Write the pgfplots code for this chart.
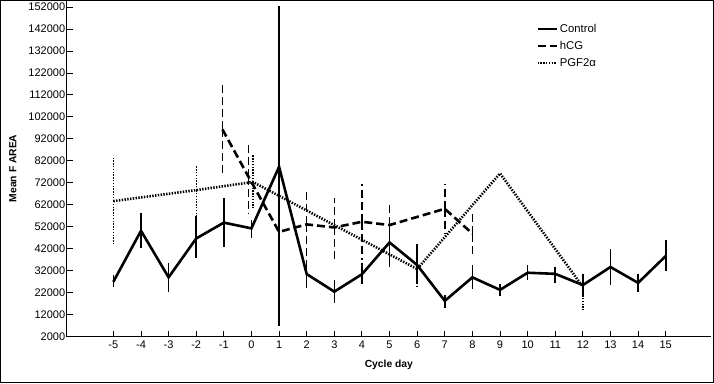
\documentclass[border=0pt]{standalone}
\usepackage{fontspec}
\setmainfont{Liberation Sans}
\usepackage{pgfplots}
\pgfplotsset{compat=1.18}
\usepackage{pgfplotstable}

\pgfplotstableread{
x y ep em
-5 27000 3000 2500
-4 50200 7900 7700
-3 29000 6400 6800
-2 46700 10200 9100
-1 53900 11000 11000
0 51300 4000 4600
1 79300 73100 72300
2 30500 6400 6500
3 22500 5300 5000
4 30400 5000 4600
5 44900 10900 11400
6 34600 9800 8800
7 18300 2700 3100
8 29000 5600 5500
9 23300 2500 2700
10 31100 3500 3300
11 30600 2900 4300
12 25500 4900 5300
13 33700 8200 8100
14 26500 3900 4000
15 38700 7300 7000
}\control

\pgfplotstableread{
x y ep em
-1.05 96300 20600 19600
-0.1 74600 15000 16500
1 49700 6100 6500
2 53100 15600 15800
3 51700 13200 14400
4 54300 17100 17400
5 52800 10600 10600
7 60200 11500 11200
8 48900 10100 10500
}\hcg

\pgfplotstableread{
x y ep em
-5 63700 19400 20000
-2 68700 11300 12200
0.05 72400 12500 12000
6 32800 5600 8800
9 76300 0 0
12 24700 6100 10600
}\pgf

\begin{document}
\begin{tikzpicture}[x=1pt,y=1pt]
\useasboundingbox (0,0) rectangle (714,383);
\draw[line width=1.3pt] (0.65,0.65) rectangle (713.35,382.35);
\begin{axis}[
  at={(66.7pt,46.3pt)}, anchor=south west,
  scale only axis, width=644.3pt, height=336.7pt,
  xmin=-6.69, xmax=16.64, ymin=2000, ymax=155200,
  axis lines*=left,
  axis line style={line width=1pt},
  tick align=inside, major tick length=6pt,
  tick style={line width=0.9pt, black},
  xtick={-5,...,15},
  ytick={2000,12000,...,152000},
  scaled y ticks=false,
  /pgf/number format/.cd, fixed, 1000 sep={}, assume math mode=true,
  /pgfplots/.cd,
  tick label style={font=\fontsize{11}{12}\selectfont},
  yticklabel style={xshift=2pt},
  xticklabel style={yshift=-1pt},
  xlabel={\bfseries Cycle day},
  ylabel={\bfseries Mean F AREA},
  label style={font=\fontsize{10.3}{12}\selectfont},
  xlabel style={at={(axis description cs:0.5,-0.083)}, anchor=center},
  ylabel style={at={(axis description cs:-0.0835,0.5)}, anchor=center},
  clip=false,
  legend style={draw=none, fill=none, at={(rel axis cs:0.727,0.938)}, anchor=north west,
    font=\fontsize{11.3}{12}\selectfont, row sep=3.5pt, inner sep=1pt,
    /tikz/every even column/.append style={column sep=1pt}},
  legend cell align=left,
  legend image code/.code={\draw[#1] (0pt,0pt) -- (19pt,0pt);},
]
\addplot[black, line width=2.6pt, line join=miter,
  error bars/.cd, y dir=both, y explicit,
  error mark=none, error bar style={line width=1.6pt, solid}]
  table[x=x, y=y, y error plus=ep, y error minus=em]{\control};
\addlegendentry{Control}
\addplot[black, line width=2.6pt, dash pattern=on 8pt off 4pt,
  error bars/.cd, y dir=both, y explicit,
  error mark=none, error bar style={line width=1.6pt, dash pattern=on 8pt off 4pt}]
  table[x=x, y=y, y error plus=ep, y error minus=em]{\hcg};
\addlegendentry{hCG}
\addplot[black, line width=2.6pt, dash pattern=on 1.4pt off 1.4pt,
  error bars/.cd, y dir=both, y explicit,
  error mark=none, error bar style={line width=1.4pt, dash pattern=on 1.4pt off 1.4pt}]
  table[x=x, y=y, y error plus=ep, y error minus=em]{\pgf};
\addlegendentry{PGF2α}
\end{axis}
\end{tikzpicture}
\end{document}
